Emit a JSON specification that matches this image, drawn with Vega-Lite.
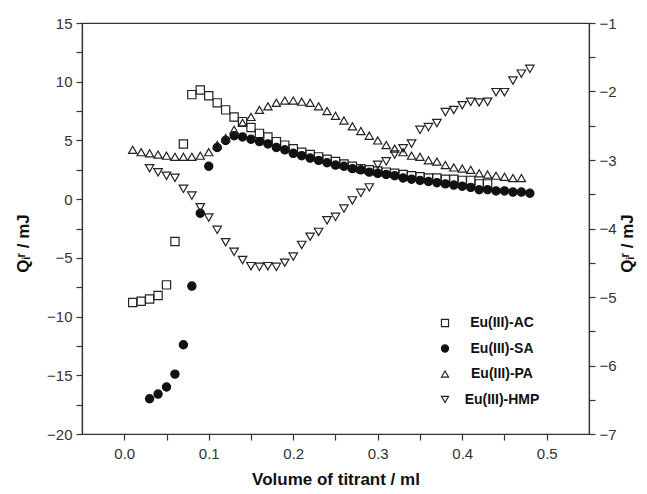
{
  "$schema": "https://vega.github.io/schema/vega-lite/v6.json",
  "width": 507,
  "height": 411,
  "autosize": {"type": "none"},
  "padding": {"left": 82, "top": 23, "right": 58, "bottom": 60},
  "background": "white",
  "config": {
    "font": "Liberation Sans",
    "view": {"stroke": "#333", "strokeWidth": 1.2},
    "axis": {
      "grid": false,
      "domainColor": "#333",
      "domainWidth": 1.2,
      "tickColor": "#333",
      "tickWidth": 1.2,
      "tickSize": 6,
      "labelFont": "Liberation Sans",
      "labelFontSize": 15,
      "labelColor": "#333",
      "titleFont": "Liberation Sans",
      "titleFontSize": 17,
      "titleFontWeight": "bold",
      "titleColor": "#111"
    },
    "legend": {
      "labelFont": "Liberation Sans",
      "labelFontSize": 14,
      "labelFontWeight": "bold",
      "labelColor": "#111",
      "symbolStrokeWidth": 1.2
    }
  },
  "datasets": {
    "left": [
      {"v": 0.01, "q": -8.8, "series": "Eu(III)-AC"},
      {"v": 0.02, "q": -8.7, "series": "Eu(III)-AC"},
      {"v": 0.03, "q": -8.5, "series": "Eu(III)-AC"},
      {"v": 0.04, "q": -8.2, "series": "Eu(III)-AC"},
      {"v": 0.05, "q": -7.3, "series": "Eu(III)-AC"},
      {"v": 0.06, "q": -3.6, "series": "Eu(III)-AC"},
      {"v": 0.07, "q": 4.7, "series": "Eu(III)-AC"},
      {"v": 0.08, "q": 8.9, "series": "Eu(III)-AC"},
      {"v": 0.09, "q": 9.3, "series": "Eu(III)-AC"},
      {"v": 0.10, "q": 8.8, "series": "Eu(III)-AC"},
      {"v": 0.11, "q": 8.2, "series": "Eu(III)-AC"},
      {"v": 0.12, "q": 7.6, "series": "Eu(III)-AC"},
      {"v": 0.13, "q": 7.0, "series": "Eu(III)-AC"},
      {"v": 0.14, "q": 6.6, "series": "Eu(III)-AC"},
      {"v": 0.15, "q": 6.1, "series": "Eu(III)-AC"},
      {"v": 0.16, "q": 5.6, "series": "Eu(III)-AC"},
      {"v": 0.17, "q": 5.3, "series": "Eu(III)-AC"},
      {"v": 0.18, "q": 4.9, "series": "Eu(III)-AC"},
      {"v": 0.19, "q": 4.6, "series": "Eu(III)-AC"},
      {"v": 0.20, "q": 4.3, "series": "Eu(III)-AC"},
      {"v": 0.21, "q": 4.0, "series": "Eu(III)-AC"},
      {"v": 0.22, "q": 3.8, "series": "Eu(III)-AC"},
      {"v": 0.23, "q": 3.6, "series": "Eu(III)-AC"},
      {"v": 0.24, "q": 3.4, "series": "Eu(III)-AC"},
      {"v": 0.25, "q": 3.2, "series": "Eu(III)-AC"},
      {"v": 0.26, "q": 3.0, "series": "Eu(III)-AC"},
      {"v": 0.27, "q": 2.8, "series": "Eu(III)-AC"},
      {"v": 0.28, "q": 2.6, "series": "Eu(III)-AC"},
      {"v": 0.29, "q": 2.5, "series": "Eu(III)-AC"},
      {"v": 0.30, "q": 2.4, "series": "Eu(III)-AC"},
      {"v": 0.31, "q": 2.3, "series": "Eu(III)-AC"},
      {"v": 0.32, "q": 2.2, "series": "Eu(III)-AC"},
      {"v": 0.33, "q": 2.1, "series": "Eu(III)-AC"},
      {"v": 0.34, "q": 2.0, "series": "Eu(III)-AC"},
      {"v": 0.35, "q": 1.9, "series": "Eu(III)-AC"},
      {"v": 0.36, "q": 1.8, "series": "Eu(III)-AC"},
      {"v": 0.37, "q": 1.8, "series": "Eu(III)-AC"},
      {"v": 0.38, "q": 1.7, "series": "Eu(III)-AC"},
      {"v": 0.39, "q": 1.7, "series": "Eu(III)-AC"},
      {"v": 0.40, "q": 1.6, "series": "Eu(III)-AC"},
      {"v": 0.41, "q": 1.6, "series": "Eu(III)-AC"},
      {"v": 0.42, "q": 1.3, "series": "Eu(III)-AC"},
      {"v": 0.43, "q": 1.3, "series": "Eu(III)-AC"},
      {"v": 0.03, "q": -17.0, "series": "Eu(III)-SA"},
      {"v": 0.04, "q": -16.6, "series": "Eu(III)-SA"},
      {"v": 0.05, "q": -16.0, "series": "Eu(III)-SA"},
      {"v": 0.06, "q": -14.9, "series": "Eu(III)-SA"},
      {"v": 0.07, "q": -12.4, "series": "Eu(III)-SA"},
      {"v": 0.08, "q": -7.4, "series": "Eu(III)-SA"},
      {"v": 0.09, "q": -1.2, "series": "Eu(III)-SA"},
      {"v": 0.10, "q": 2.8, "series": "Eu(III)-SA"},
      {"v": 0.11, "q": 4.4, "series": "Eu(III)-SA"},
      {"v": 0.12, "q": 5.0, "series": "Eu(III)-SA"},
      {"v": 0.13, "q": 5.4, "series": "Eu(III)-SA"},
      {"v": 0.14, "q": 5.3, "series": "Eu(III)-SA"},
      {"v": 0.15, "q": 5.1, "series": "Eu(III)-SA"},
      {"v": 0.16, "q": 4.9, "series": "Eu(III)-SA"},
      {"v": 0.17, "q": 4.7, "series": "Eu(III)-SA"},
      {"v": 0.18, "q": 4.4, "series": "Eu(III)-SA"},
      {"v": 0.19, "q": 4.2, "series": "Eu(III)-SA"},
      {"v": 0.20, "q": 3.9, "series": "Eu(III)-SA"},
      {"v": 0.21, "q": 3.7, "series": "Eu(III)-SA"},
      {"v": 0.22, "q": 3.5, "series": "Eu(III)-SA"},
      {"v": 0.23, "q": 3.3, "series": "Eu(III)-SA"},
      {"v": 0.24, "q": 3.1, "series": "Eu(III)-SA"},
      {"v": 0.25, "q": 2.9, "series": "Eu(III)-SA"},
      {"v": 0.26, "q": 2.8, "series": "Eu(III)-SA"},
      {"v": 0.27, "q": 2.6, "series": "Eu(III)-SA"},
      {"v": 0.28, "q": 2.5, "series": "Eu(III)-SA"},
      {"v": 0.29, "q": 2.3, "series": "Eu(III)-SA"},
      {"v": 0.30, "q": 2.2, "series": "Eu(III)-SA"},
      {"v": 0.31, "q": 2.1, "series": "Eu(III)-SA"},
      {"v": 0.32, "q": 2.0, "series": "Eu(III)-SA"},
      {"v": 0.33, "q": 1.8, "series": "Eu(III)-SA"},
      {"v": 0.34, "q": 1.7, "series": "Eu(III)-SA"},
      {"v": 0.35, "q": 1.6, "series": "Eu(III)-SA"},
      {"v": 0.36, "q": 1.5, "series": "Eu(III)-SA"},
      {"v": 0.37, "q": 1.4, "series": "Eu(III)-SA"},
      {"v": 0.38, "q": 1.3, "series": "Eu(III)-SA"},
      {"v": 0.39, "q": 1.2, "series": "Eu(III)-SA"},
      {"v": 0.40, "q": 1.1, "series": "Eu(III)-SA"},
      {"v": 0.41, "q": 1.0, "series": "Eu(III)-SA"},
      {"v": 0.42, "q": 0.8, "series": "Eu(III)-SA"},
      {"v": 0.43, "q": 0.8, "series": "Eu(III)-SA"},
      {"v": 0.44, "q": 0.7, "series": "Eu(III)-SA"},
      {"v": 0.45, "q": 0.7, "series": "Eu(III)-SA"},
      {"v": 0.46, "q": 0.6, "series": "Eu(III)-SA"},
      {"v": 0.47, "q": 0.6, "series": "Eu(III)-SA"},
      {"v": 0.48, "q": 0.5, "series": "Eu(III)-SA"},
      {"v": 0.01, "q": 4.2, "series": "Eu(III)-PA"},
      {"v": 0.02, "q": 4.0, "series": "Eu(III)-PA"},
      {"v": 0.03, "q": 3.9, "series": "Eu(III)-PA"},
      {"v": 0.04, "q": 3.8, "series": "Eu(III)-PA"},
      {"v": 0.05, "q": 3.7, "series": "Eu(III)-PA"},
      {"v": 0.06, "q": 3.6, "series": "Eu(III)-PA"},
      {"v": 0.07, "q": 3.6, "series": "Eu(III)-PA"},
      {"v": 0.08, "q": 3.6, "series": "Eu(III)-PA"},
      {"v": 0.09, "q": 3.7, "series": "Eu(III)-PA"},
      {"v": 0.10, "q": 4.0, "series": "Eu(III)-PA"},
      {"v": 0.11, "q": 4.6, "series": "Eu(III)-PA"},
      {"v": 0.12, "q": 5.2, "series": "Eu(III)-PA"},
      {"v": 0.13, "q": 5.9, "series": "Eu(III)-PA"},
      {"v": 0.14, "q": 6.5, "series": "Eu(III)-PA"},
      {"v": 0.15, "q": 7.0, "series": "Eu(III)-PA"},
      {"v": 0.16, "q": 7.6, "series": "Eu(III)-PA"},
      {"v": 0.17, "q": 7.9, "series": "Eu(III)-PA"},
      {"v": 0.18, "q": 8.2, "series": "Eu(III)-PA"},
      {"v": 0.19, "q": 8.4, "series": "Eu(III)-PA"},
      {"v": 0.20, "q": 8.4, "series": "Eu(III)-PA"},
      {"v": 0.21, "q": 8.3, "series": "Eu(III)-PA"},
      {"v": 0.22, "q": 8.2, "series": "Eu(III)-PA"},
      {"v": 0.23, "q": 7.9, "series": "Eu(III)-PA"},
      {"v": 0.24, "q": 7.5, "series": "Eu(III)-PA"},
      {"v": 0.25, "q": 7.1, "series": "Eu(III)-PA"},
      {"v": 0.26, "q": 6.7, "series": "Eu(III)-PA"},
      {"v": 0.27, "q": 6.2, "series": "Eu(III)-PA"},
      {"v": 0.28, "q": 5.8, "series": "Eu(III)-PA"},
      {"v": 0.29, "q": 5.4, "series": "Eu(III)-PA"},
      {"v": 0.30, "q": 5.0, "series": "Eu(III)-PA"},
      {"v": 0.31, "q": 4.6, "series": "Eu(III)-PA"},
      {"v": 0.32, "q": 4.3, "series": "Eu(III)-PA"},
      {"v": 0.33, "q": 4.0, "series": "Eu(III)-PA"},
      {"v": 0.34, "q": 3.7, "series": "Eu(III)-PA"},
      {"v": 0.35, "q": 3.6, "series": "Eu(III)-PA"},
      {"v": 0.36, "q": 3.3, "series": "Eu(III)-PA"},
      {"v": 0.37, "q": 3.2, "series": "Eu(III)-PA"},
      {"v": 0.38, "q": 2.9, "series": "Eu(III)-PA"},
      {"v": 0.39, "q": 2.7, "series": "Eu(III)-PA"},
      {"v": 0.40, "q": 2.6, "series": "Eu(III)-PA"},
      {"v": 0.41, "q": 2.5, "series": "Eu(III)-PA"},
      {"v": 0.42, "q": 2.2, "series": "Eu(III)-PA"},
      {"v": 0.43, "q": 2.1, "series": "Eu(III)-PA"},
      {"v": 0.44, "q": 2.0, "series": "Eu(III)-PA"},
      {"v": 0.45, "q": 1.9, "series": "Eu(III)-PA"},
      {"v": 0.46, "q": 1.8, "series": "Eu(III)-PA"},
      {"v": 0.47, "q": 1.8, "series": "Eu(III)-PA"}
    ],
    "right": [
      {"v": 0.03, "q": -3.12, "series": "Eu(III)-HMP"},
      {"v": 0.04, "q": -3.18, "series": "Eu(III)-HMP"},
      {"v": 0.05, "q": -3.23, "series": "Eu(III)-HMP"},
      {"v": 0.06, "q": -3.26, "series": "Eu(III)-HMP"},
      {"v": 0.07, "q": -3.42, "series": "Eu(III)-HMP"},
      {"v": 0.08, "q": -3.52, "series": "Eu(III)-HMP"},
      {"v": 0.09, "q": -3.69, "series": "Eu(III)-HMP"},
      {"v": 0.10, "q": -3.84, "series": "Eu(III)-HMP"},
      {"v": 0.11, "q": -4.02, "series": "Eu(III)-HMP"},
      {"v": 0.12, "q": -4.20, "series": "Eu(III)-HMP"},
      {"v": 0.13, "q": -4.34, "series": "Eu(III)-HMP"},
      {"v": 0.14, "q": -4.46, "series": "Eu(III)-HMP"},
      {"v": 0.15, "q": -4.55, "series": "Eu(III)-HMP"},
      {"v": 0.16, "q": -4.56, "series": "Eu(III)-HMP"},
      {"v": 0.17, "q": -4.55, "series": "Eu(III)-HMP"},
      {"v": 0.18, "q": -4.56, "series": "Eu(III)-HMP"},
      {"v": 0.19, "q": -4.50, "series": "Eu(III)-HMP"},
      {"v": 0.20, "q": -4.41, "series": "Eu(III)-HMP"},
      {"v": 0.21, "q": -4.24, "series": "Eu(III)-HMP"},
      {"v": 0.22, "q": -4.12, "series": "Eu(III)-HMP"},
      {"v": 0.23, "q": -4.05, "series": "Eu(III)-HMP"},
      {"v": 0.24, "q": -3.88, "series": "Eu(III)-HMP"},
      {"v": 0.25, "q": -3.83, "series": "Eu(III)-HMP"},
      {"v": 0.26, "q": -3.71, "series": "Eu(III)-HMP"},
      {"v": 0.27, "q": -3.59, "series": "Eu(III)-HMP"},
      {"v": 0.28, "q": -3.48, "series": "Eu(III)-HMP"},
      {"v": 0.29, "q": -3.40, "series": "Eu(III)-HMP"},
      {"v": 0.30, "q": -3.07, "series": "Eu(III)-HMP"},
      {"v": 0.31, "q": -3.02, "series": "Eu(III)-HMP"},
      {"v": 0.32, "q": -2.92, "series": "Eu(III)-HMP"},
      {"v": 0.33, "q": -2.83, "series": "Eu(III)-HMP"},
      {"v": 0.34, "q": -2.76, "series": "Eu(III)-HMP"},
      {"v": 0.35, "q": -2.56, "series": "Eu(III)-HMP"},
      {"v": 0.36, "q": -2.52, "series": "Eu(III)-HMP"},
      {"v": 0.37, "q": -2.46, "series": "Eu(III)-HMP"},
      {"v": 0.38, "q": -2.30, "series": "Eu(III)-HMP"},
      {"v": 0.39, "q": -2.27, "series": "Eu(III)-HMP"},
      {"v": 0.40, "q": -2.20, "series": "Eu(III)-HMP"},
      {"v": 0.41, "q": -2.15, "series": "Eu(III)-HMP"},
      {"v": 0.42, "q": -2.16, "series": "Eu(III)-HMP"},
      {"v": 0.43, "q": -2.15, "series": "Eu(III)-HMP"},
      {"v": 0.44, "q": -2.01, "series": "Eu(III)-HMP"},
      {"v": 0.45, "q": -2.01, "series": "Eu(III)-HMP"},
      {"v": 0.46, "q": -1.84, "series": "Eu(III)-HMP"},
      {"v": 0.47, "q": -1.74, "series": "Eu(III)-HMP"},
      {"v": 0.48, "q": -1.67, "series": "Eu(III)-HMP"}
    ]
  },
  "layer": [
    {
      "data": {"name": "left"},
      "mark": {"type": "point", "filled": true, "size": 68, "strokeWidth": 1.2, "opacity": 1},
      "encoding": {
        "x": {
          "field": "v", "type": "quantitative",
          "scale": {"domain": [-0.05, 0.55], "nice": false, "zero": false},
          "axis": {
            "title": "Volume of titrant / ml",
            "values": [0, 0.05, 0.1, 0.15, 0.2, 0.25, 0.3, 0.35, 0.4, 0.45, 0.5],
            "labelExpr": "abs(datum.value * 10 - round(datum.value * 10)) < 0.001 ? format(datum.value, '.1f') : ''",
            "labelPadding": 6,
            "titlePadding": 10
          }
        },
        "y": {
          "field": "q", "type": "quantitative",
          "scale": {"domain": [-20, 15], "nice": false, "zero": false},
          "axis": {
            "orient": "left",
            "title": "Qᵢʳ / mJ",
            "values": [-20, -17.5, -15, -12.5, -10, -7.5, -5, -2.5, 0, 2.5, 5, 7.5, 10, 12.5, 15],
            "labelExpr": "datum.value % 5 == 0 ? format(datum.value, 'd') : ''",
            "titleAngle": -90,
            "titleY": 220,
            "titlePadding": 14,
            "labelPadding": 4
          }
        },
        "shape": {
          "field": "series", "type": "nominal",
          "scale": {"domain": ["Eu(III)-AC", "Eu(III)-SA", "Eu(III)-PA", "Eu(III)-HMP"], "range": ["square", "circle", "triangle-up", "triangle-down"]},
          "legend": {"title": null, "orient": "none", "legendX": 356, "legendY": 293, "rowPadding": 11.5, "symbolSize": 50, "labelAlign": "center", "labelOffset": 50}
        },
        "fill": {
          "field": "series", "type": "nominal",
          "scale": {"domain": ["Eu(III)-AC", "Eu(III)-SA", "Eu(III)-PA", "Eu(III)-HMP"], "range": ["transparent", "#111", "transparent", "transparent"]},
          "legend": {"title": null, "orient": "none", "legendX": 356, "legendY": 293, "rowPadding": 11.5, "symbolSize": 50, "labelAlign": "center", "labelOffset": 50}
        },
        "stroke": {
          "field": "series", "type": "nominal",
          "scale": {"domain": ["Eu(III)-AC", "Eu(III)-SA", "Eu(III)-PA", "Eu(III)-HMP"], "range": ["#222", "#111", "#222", "#222"]},
          "legend": {"title": null, "orient": "none", "legendX": 356, "legendY": 293, "rowPadding": 11.5, "symbolSize": 50, "labelAlign": "center", "labelOffset": 50}
        }
      }
    },
    {
      "data": {"name": "right"},
      "mark": {"type": "point", "filled": true, "size": 72, "strokeWidth": 1.2, "opacity": 1},
      "encoding": {
        "x": {"field": "v", "type": "quantitative"},
        "y": {
          "field": "q", "type": "quantitative",
          "scale": {"domain": [-7, -1], "nice": false, "zero": false},
          "axis": {
            "orient": "right",
            "title": "Qᵢʳ / mJ",
            "values": [-7, -6.5, -6, -5.5, -5, -4.5, -4, -3.5, -3, -2.5, -2, -1.5, -1],
            "labelExpr": "datum.value % 1 == 0 ? format(datum.value, 'd') : ''",
            "titleAngle": -90,
            "titleY": 220,
            "titlePadding": 20,
            "labelPadding": 4
          }
        },
        "shape": {"field": "series", "type": "nominal"},
        "fill": {"field": "series", "type": "nominal"},
        "stroke": {"field": "series", "type": "nominal"}
      }
    }
  ],
  "resolve": {"scale": {"y": "independent"}}
}
